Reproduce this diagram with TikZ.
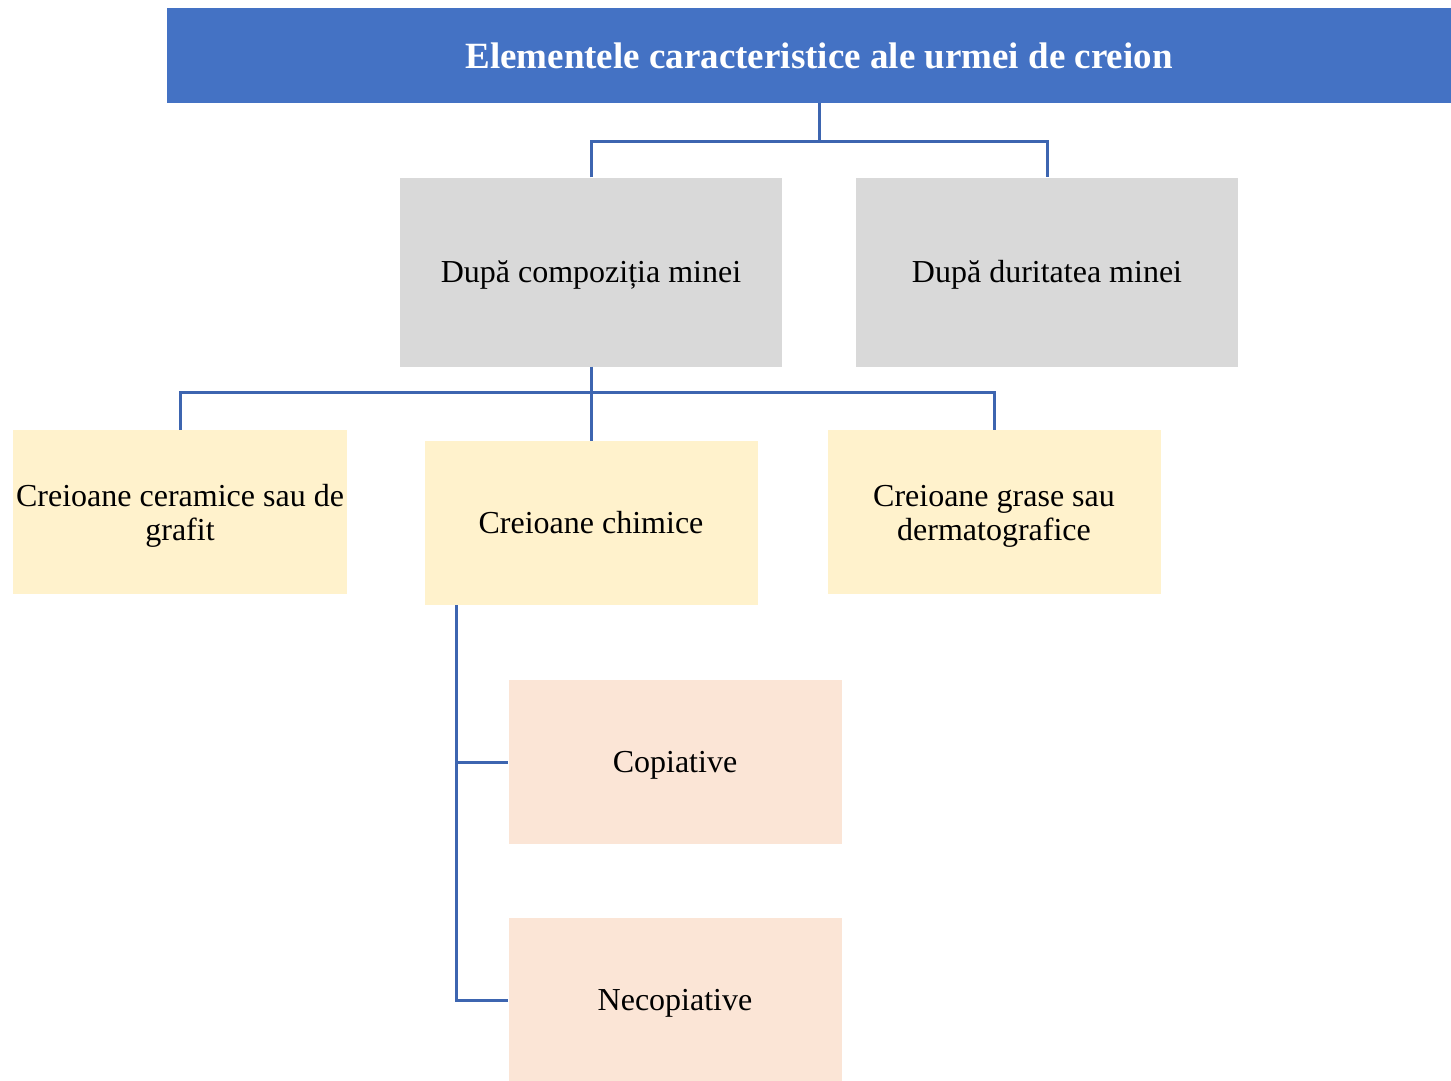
\documentclass[tikz,border=0pt]{standalone}
\usepackage{fontspec}
\setmainfont{Liberation Serif}
\usetikzlibrary{positioning,calc}
\definecolor{hdblue}{HTML}{4472C4}
\definecolor{lnblue}{HTML}{3D65B0}
\definecolor{grfill}{HTML}{D9D9D9}
\definecolor{ylfill}{HTML}{FFF2CC}
\definecolor{pkfill}{HTML}{FBE5D6}

\begin{document}
\begin{tikzpicture}[x=1pt, y=-1pt,
    head/.style={fill=hdblue, text=white, minimum width=1284pt, minimum height=95pt, font=\fontsize{37}{40}\selectfont\bfseries},
    grp/.style={fill=grfill, minimum width=382pt, minimum height=189pt, align=center, text height=28.5pt, text depth=6.9pt, font=\fontsize{32}{34}\selectfont},
    kind/.style={fill=ylfill, minimum width=333pt, minimum height=164pt, align=center, text height=28.5pt, text depth=6.9pt, font=\fontsize{32}{34}\selectfont},
    sub/.style={fill=pkfill, minimum width=333pt, minimum height=164pt, align=center, text height=28.5pt, text depth=6.9pt, font=\fontsize{32}{34}\selectfont},
    twoline/.style={text height=63pt},
    conn/.style={draw=lnblue, line width=3pt}
]
\useasboundingbox (0,0) rectangle (1451,1080);

\node[head] (title) at (809,55.5) {\hspace*{20pt}Elementele caracteristice ale urmei de creion};
\node[grp] (comp) at (591,272) {După compoziția minei};
\node[grp] (dur) at (1047,272) {După duritatea minei};
\node[kind, twoline] (cer) at (180,512) {Creioane ceramice sau de\\grafit};
\node[kind] (chim) at (591,523) {Creioane chimice};
\node[kind, twoline] (gra) at (994,512) {Creioane grase sau\\dermatografice};
\node[sub] (copi) at (675,762) {Copiative};
\node[sub] (neco) at (675,1000) {Necopiative};

\coordinate (tmid) at ($(comp.north)!0.5!(dur.north)+(0,-36)$);
\coordinate (bmid) at ($(comp.south)+(0,26)$);
\coordinate (rail) at ($(chim.south west)+(32,0)$);

\draw[conn] (title.south -| tmid) -- (tmid);
\draw[conn] (comp.north) |- (tmid) -| (dur.north);
\draw[conn] (comp.south) -- (chim.north);
\draw[conn] (cer.north) |- (bmid) -| (gra.north);
\draw[conn] (rail) |- (copi.west);
\draw[conn] (rail) |- (neco.west);
\end{tikzpicture}
\end{document}
